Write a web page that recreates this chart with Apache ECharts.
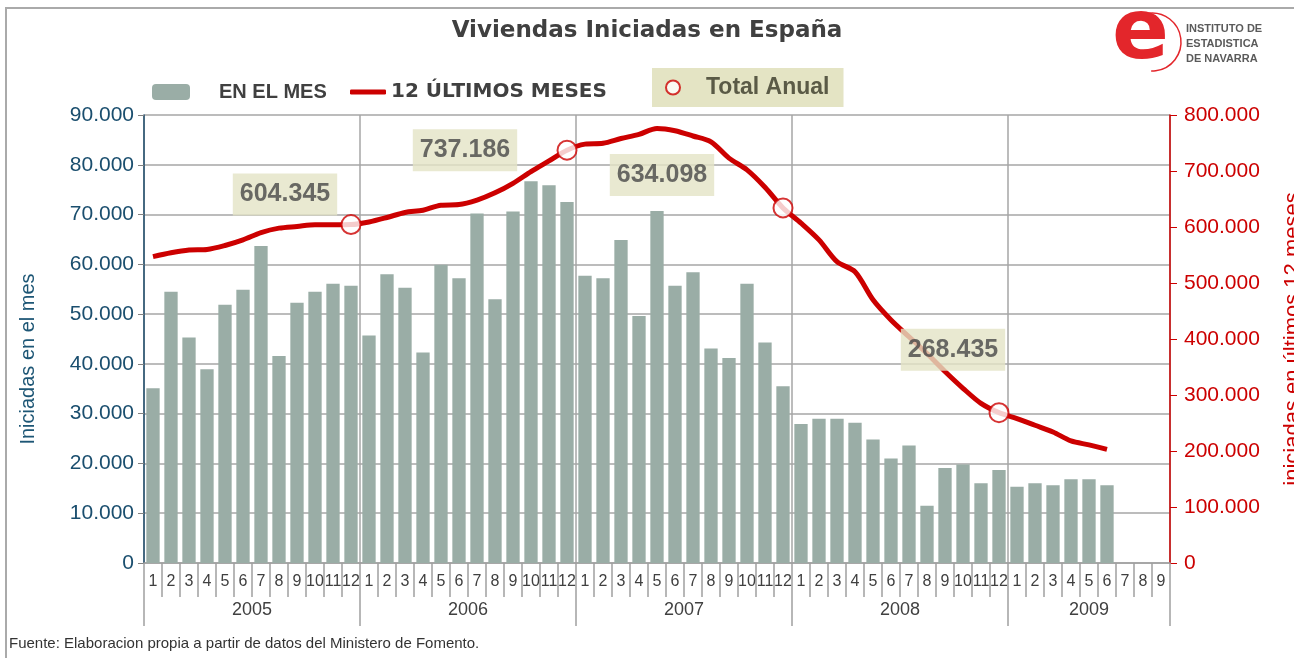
<!DOCTYPE html>
<html>
<head>
<meta charset="utf-8">
<script src="https://cdn.jsdelivr.net/npm/echarts@6/dist/echarts.min.js"></script>
<style>
  html, body { margin: 0; padding: 0; background: #fff; }
  #chart { width: 1294px; height: 658px; }
</style>
</head>
<body>
<div id="chart"></div>
<script>
// data
const years = ['2005', '2006', '2007', '2008', '2009'];
const monthsInYear = [12, 12, 12, 12, 9];

const enElMes = [
  35100, 54500, 45300, 38900, 51900, 54900, 63700, 41600, 52300, 54500, 56100, 55700,
  45700, 58000, 55300, 42300, 59900, 57200, 70200, 53000, 70600, 76700, 75900, 72500,
  57700, 57200, 64900, 49600, 70700, 55700, 58400, 43100, 41200, 56100, 44300, 35500,
  27900, 29000, 29000, 28200, 24800, 21000, 23600, 11500, 19100, 19800, 16000, 18700,
  15300, 16000, 15600, 16800, 16800, 15600, null, null, null
];

const ultimos12 = [
  547000, 554000, 559000, 560000, 567000, 577000, 590000, 598000, 601000, 604000, 604000, 604345,
  609000, 617000, 626000, 630000, 639000, 640000, 648000, 661000, 678000, 699000, 718000, 737186,
  748000, 749500, 758000, 765500, 776000, 772000, 762500, 752000, 723000, 702000, 671000, 634098,
  607000, 577000, 538000, 520000, 470000, 434000, 404000, 374000, 342000, 312000, 285000, 268435,
  258000, 246000, 234000, 218000, 211000, 203000, null, null, null
];

const totalAnual = [604345, 737186, 634098, 268435];
// where each annual box sits relative to its circle (style only)
const boxOffsets = [[-66, -30], [-102, 0], [-121, -33], [-46, -63]];

// month and year labels for the two-level x axis
const monthLabels = [];
const yearOfMonth = [];
years.forEach((y, i) => {
  for (let m = 1; m <= monthsInYear[i]; m++) {
    monthLabels.push(String(m));
    yearOfMonth.push(y);
  }
});

const yearStart = [];
let acc = 0;
monthsInYear.forEach(n => { yearStart.push(acc); acc += n; });

const fmt = v => String(v).replace(/\B(?=(\d{3})+(?!\d))/g, '.');

const totalData = totalAnual.map((v, i) => ({
  value: [yearStart[i] + 11, v],
  label: { offset: boxOffsets[i] }
}));

const yearLabelIdx = {};
years.forEach((y, i) => {
  const n = monthsInYear[i];
  yearLabelIdx[yearStart[i] + Math.floor((n - 1) / 2)] = n % 2 === 0 ? 'e' : 'o';
});

const chart = echarts.init(document.getElementById('chart'));

const legendText = { fontSize: 20, fontWeight: 'bold', color: '#404040' };

const option = {
  backgroundColor: '#fff',
  animation: false,
  textStyle: { fontFamily: 'Liberation Sans, Arial, sans-serif' },
  title: {
    text: 'Viviendas Iniciadas en España',
    left: 'center',
    top: 15,
    textStyle: { fontSize: 23, fontWeight: 'bold', color: '#404040', fontFamily: 'DejaVu Sans, sans-serif' }
  },
  legend: [
    {
      data: ['EN EL MES'],
      left: 147,
      top: 77,
      itemWidth: 38,
      itemHeight: 16,
      textStyle: Object.assign({}, legendText, { padding: [0, 0, 0, 24] })
    },
    {
      data: [{ name: '12 ÚLTIMOS MESES', icon: 'roundRect' }],
      left: 345,
      top: 77,
      itemWidth: 36,
      itemHeight: 5,
      textStyle: Object.assign({}, legendText, { fontFamily: 'DejaVu Sans, sans-serif', fontSize: 20 })
    },
    {
      data: ['Total Anual'],
      left: 652,
      top: 68,
      backgroundColor: '#e4e4c4',
      padding: [8, 14, 8, 13],
      itemWidth: 14,
      itemHeight: 14,
      itemGap: 10,
      textStyle: { fontSize: 23, fontWeight: 'bold', color: '#5a5a46', padding: [0, 0, 0, 21] }
    }
  ],
  grid: { left: 144, right: 124, top: 115, bottom: 95, outerBoundsMode: 'none' },
  xAxis: [
    {
      type: 'category',
      data: monthLabels,
      boundaryGap: true,
      axisLine: { show: true, lineStyle: { color: '#a0a0a0', width: 1.5 } },
      axisTick: { show: true, interval: 0, length: 34, lineStyle: { color: '#a0a0a0', width: 1.5 } },
      axisLabel: {
        interval: 0,
        margin: 11,
        fontSize: 16,
        color: '#404040',
        fontFamily: 'Liberation Sans Narrow, Arial Narrow, Liberation Sans, sans-serif'
      },
      splitLine: { show: false }
    },
    {
      type: 'category',
      data: yearOfMonth,
      boundaryGap: true,
      position: 'bottom',
      axisLine: { show: false },
      axisTick: {
        show: true,
        length: 63,
        interval: idx => yearStart.includes(idx),
        lineStyle: { color: '#a0a0a0', width: 1.5 }
      },
      splitLine: {
        show: true,
        interval: idx => yearStart.includes(idx),
        lineStyle: { color: '#a6a6a6', width: 1.5 }
      },
      axisLabel: {
        margin: 38,
        interval: idx => yearLabelIdx[idx] !== undefined,
        formatter: (v, idx) => '{' + yearLabelIdx[idx] + '|' + v + '}',
        rich: {
          e: { fontSize: 18, color: '#404040', padding: [0, 0, 0, 18] },
          o: { fontSize: 18, color: '#404040' }
        }
      }
    }
  ],
  yAxis: [
    {
      type: 'value',
      min: 0,
      max: 90000,
      interval: 10000,
      name: 'Iniciadas en el mes',
      nameLocation: 'middle',
      nameRotate: 90,
      nameGap: 106,
      nameTextStyle: { fontSize: 20, color: '#1d5675', padding: [0, 40, 0, 0] },
      axisLine: { show: true, lineStyle: { color: '#1f4e6e', width: 1.5 } },
      axisTick: { show: true, length: 6, lineStyle: { color: '#808080' } },
      axisLabel: { fontSize: 21, color: '#1a4e6e', margin: 10, formatter: fmt },
      splitLine: { show: true, lineStyle: { color: '#a6a6a6', width: 1.5 } }
    },
    {
      type: 'value',
      min: 0,
      max: 800000,
      interval: 100000,
      position: 'right',
      name: 'iniciadas en últimos 12 meses',
      nameLocation: 'middle',
      nameRotate: 90,
      nameGap: 112,
      nameTextStyle: { fontSize: 22, color: '#cc0000' },
      axisLine: { show: true, lineStyle: { color: '#cc0000', width: 1.5 } },
      axisTick: { show: true, length: 7, lineStyle: { color: '#cc0000' } },
      axisLabel: { fontSize: 21, color: '#cc0000', margin: 14, formatter: fmt },
      splitLine: { show: false }
    }
  ],
  series: [
    {
      name: 'EN EL MES',
      type: 'bar',
      data: enElMes,
      xAxisIndex: 0,
      yAxisIndex: 0,
      barCategoryGap: '26%',
      itemStyle: { color: '#9aada6' }
    },
    {
      name: '12 ÚLTIMOS MESES',
      type: 'line',
      data: ultimos12,
      xAxisIndex: 0,
      yAxisIndex: 1,
      smooth: 0.3,
      showSymbol: false,
      symbol: 'none',
      lineStyle: { color: '#cc0000', width: 5 },
      itemStyle: { color: '#cc0000' },
      z: 3
    },
    {
      name: 'Total Anual',
      type: 'scatter',
      data: totalData,
      xAxisIndex: 0,
      yAxisIndex: 1,
      symbol: 'circle',
      symbolSize: 19,
      itemStyle: { color: '#fff', borderColor: '#cc0000', borderWidth: 2 },
      z: 5,
      label: {
        show: true,
        position: 'inside',
        formatter: p => fmt(p.value[1]),
        fontSize: 25,
        fontWeight: 'bold',
        color: '#474747',
        backgroundColor: '#e3e3c5',
        padding: [9, 7, 8, 7]
      }
    }
  ],
  graphic: [
    {
      type: 'rect',
      shape: { x: 6, y: 8, width: 1400, height: 800 },
      style: { fill: 'none', stroke: '#aaaaaa', lineWidth: 2 },
      silent: true
    },
    {
      type: 'text',
      left: 1112,
      top: -6,
      style: {
        text: 'e',
        font: 'bold 84px DejaVu Sans, sans-serif',
        fill: '#e3262b'
      }
    },
    {
      type: 'arc',
      shape: { cx: 1152, cy: 42, r: 29, startAngle: -1.7, endAngle: 1.6 },
      style: { stroke: '#e3262b', lineWidth: 1.5, fill: 'none' }
    },
    {
      type: 'text',
      left: 1186,
      top: 21,
      style: {
        text: 'INSTITUTO DE\nESTADISTICA\nDE NAVARRA',
        font: 'bold 11px Liberation Sans, Arial, sans-serif',
        fill: '#5a5a5a',
        lineHeight: 15
      }
    },
    {
      type: 'text',
      left: 9,
      top: 636,
      style: {
        text: 'Fuente: Elaboracion propia a partir de datos del Ministero de Fomento.',
        font: '15px Liberation Sans, Arial, sans-serif',
        fill: '#333333'
      }
    }
  ]
};

chart.setOption(option);
</script>
</body>
</html>
